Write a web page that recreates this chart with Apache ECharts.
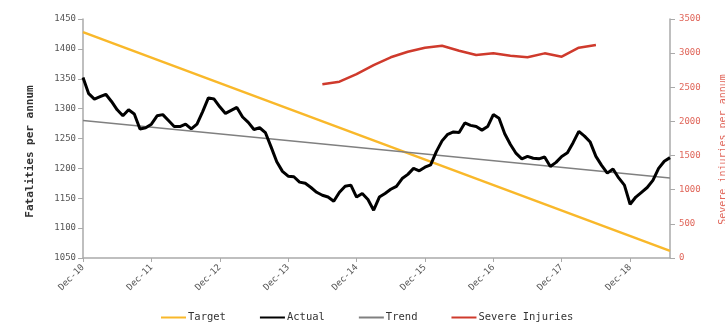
<!DOCTYPE html>
<html>
<head>
<meta charset="utf-8">
<script src="https://cdn.jsdelivr.net/npm/echarts@6/dist/echarts.min.js"></script>
<style>
  html, body { margin: 0; padding: 0; background: #fff; }
  #chart { width: 725px; height: 322px; }
</style>
</head>
<body>
<div id="chart"></div>
<script>
// monthly categories, Dec-10 .. Jul-19
const monthNames = ['Jan', 'Feb', 'Mar', 'Apr', 'May', 'Jun', 'Jul', 'Aug', 'Sep', 'Oct', 'Nov', 'Dec'];
const firstMonth = 11;   // Dec
const firstYear = 10;
const monthCount = 104;

// Fatalities per annum (rolling), one value per month
const actualValues = [
  1352, 1325, 1316, 1320, 1324, 1312, 1298, 1288, 1298, 1291, 1266, 1268,
  1274, 1288, 1290, 1280, 1270, 1270, 1274, 1266, 1274, 1295, 1318, 1316,
  1303, 1292, 1297, 1302, 1286, 1277, 1265, 1268, 1260, 1236, 1211, 1195,
  1187, 1186, 1177, 1175, 1168, 1160, 1155, 1152, 1145, 1160, 1170, 1172,
  1152, 1158, 1148, 1130, 1152, 1158, 1165, 1170, 1183, 1190, 1200, 1196,
  1202, 1206, 1228, 1246, 1257, 1261, 1260, 1276, 1272, 1270, 1264, 1270,
  1290, 1284, 1258, 1240, 1225, 1216, 1220, 1217, 1216, 1219, 1203, 1210,
  1220, 1226, 1243, 1262, 1254, 1244, 1220, 1205, 1192, 1199, 1184, 1172,
  1140, 1152, 1160, 1168, 1180, 1200, 1212, 1218
];

// straight lines: start / end
const targetMonths = ['Dec-10', 'Jul-19'];
const targetValues = [1428, 1062];
const trendMonths = ['Dec-10', 'Jul-19'];
const trendValues = [1280, 1184];

// Severe injuries per annum, quarterly (right axis)
const severeMonths = [
  'Jun-14', 'Sep-14', 'Dec-14', 'Mar-15', 'Jun-15', 'Sep-15', 'Dec-15', 'Mar-16', 'Jun-16',
  'Sep-16', 'Dec-16', 'Mar-17', 'Jun-17', 'Sep-17', 'Dec-17', 'Mar-18', 'Jun-18'
];
const severeValues = [
  2543, 2582, 2694, 2826, 2939, 3021, 3080, 3109, 3036,
  2973, 2997, 2963, 2939, 2997, 2948, 3080, 3119
];

const categories = [];
for (let i = 0; i < monthCount; i++) {
  const m = (firstMonth + i) % 12;
  const y = firstYear + Math.floor((firstMonth + i) / 12);
  categories.push(monthNames[m] + '-' + y);
}

const pairs = (xs, ys) => xs.map((x, i) => [x, ys[i]]);

const mono = 'DejaVu Sans Mono';
const chart = echarts.init(document.getElementById('chart'));

const option = {
  backgroundColor: '#fff',
  animation: false,
  grid: { left: 83, right: 55, top: 19, bottom: 64, outerBoundsMode: 'none' },
  legend: {
    left: 155,
    top: 307,
    itemWidth: 25,
    itemHeight: 12,
    itemGap: 33,
    itemStyle: { opacity: 0 },
    textStyle: { fontFamily: mono, fontSize: 10.5, color: '#333', padding: [0, 0, 0, -3] },
    data: ['Target', 'Actual', 'Trend', 'Severe Injuries']
  },
  xAxis: {
    type: 'category',
    data: categories,
    boundaryGap: false,
    axisLine: { lineStyle: { color: '#aaa', width: 1.5 } },
    axisTick: { interval: 11, length: 4, lineStyle: { color: '#aaa' } },
    axisLabel: {
      interval: 11,
      rotate: 45,
      margin: 8,
      fontFamily: mono,
      fontSize: 9,
      color: '#555'
    },
    splitLine: { show: false }
  },
  yAxis: [
    {
      type: 'value',
      min: 1050,
      max: 1450,
      interval: 50,
      name: 'Fatalities per annum',
      nameLocation: 'middle',
      nameGap: 47,
      nameTextStyle: {
        fontFamily: mono, fontSize: 11, fontWeight: 'bold', color: '#333',
        padding: [0, 26, 0, 0]
      },
      axisLine: { show: true, lineStyle: { color: '#aaa', width: 1.5 } },
      axisTick: { show: true, length: 5, lineStyle: { color: '#aaa' } },
      axisLabel: { margin: 7, fontFamily: mono, fontSize: 9, color: '#555', formatter: v => String(v) },
      splitLine: { show: false }
    },
    {
      type: 'value',
      min: 0,
      max: 3500,
      interval: 500,
      position: 'right',
      name: 'Severe injuries per annum',
      nameLocation: 'middle',
      nameGap: 48,
      nameRotate: 90,
      nameTextStyle: {
        fontFamily: mono, fontSize: 10, color: '#e0665a',
        padding: [0, 22, 0, 0]
      },
      axisLine: { show: true, lineStyle: { color: '#aaa', width: 1.5 } },
      axisTick: { show: true, length: 5, lineStyle: { color: '#aaa' } },
      axisLabel: { margin: 9, fontFamily: mono, fontSize: 9, color: '#e0665a', formatter: v => String(v) },
      splitLine: { show: false }
    }
  ],
  series: [
    {
      name: 'Target',
      type: 'line',
      data: pairs(targetMonths, targetValues),
      symbol: 'none',
      z: 2,
      lineStyle: { color: '#f9b82a', width: 2.5 },
      itemStyle: { color: '#f9b82a' }
    },
    {
      name: 'Actual',
      type: 'line',
      data: actualValues,
      symbol: 'none',
      z: 4,
      lineStyle: { color: '#000', width: 3 },
      itemStyle: { color: '#000' }
    },
    {
      name: 'Trend',
      type: 'line',
      data: pairs(trendMonths, trendValues),
      symbol: 'none',
      z: 3,
      lineStyle: { color: '#808080', width: 1.5 },
      itemStyle: { color: '#808080' }
    },
    {
      name: 'Severe Injuries',
      type: 'line',
      yAxisIndex: 1,
      data: pairs(severeMonths, severeValues),
      symbol: 'none',
      z: 3,
      lineStyle: { color: '#cf3a2c', width: 2.5 },
      itemStyle: { color: '#cf3a2c' }
    }
  ]
};

chart.setOption(option);
</script>
</body>
</html>
